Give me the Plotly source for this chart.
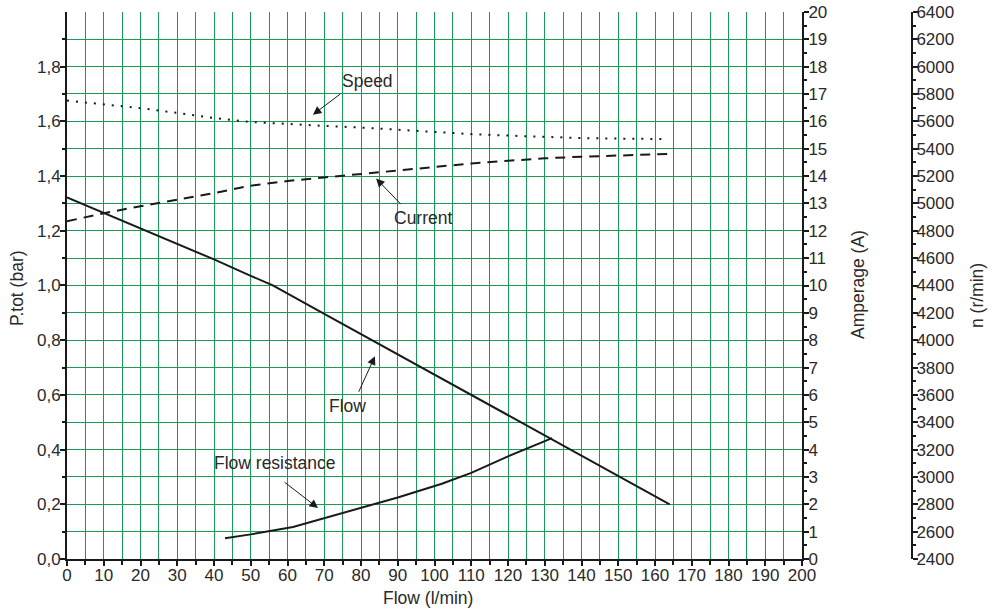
import plotly.graph_objects as go

# ---------------- data ----------------
flow_x = [0, 10, 20, 30, 40, 50, 56, 70, 80, 90, 100, 110, 120, 130, 140, 150, 164]
flow_p = [1.322, 1.265, 1.208, 1.152, 1.095, 1.035, 1.0, 0.896, 0.822, 0.748, 0.674,
          0.600, 0.526, 0.452, 0.378, 0.304, 0.20]

resist_x = [43, 50, 61.5, 70, 82, 90, 102, 110, 120, 132]
resist_p = [0.076, 0.09, 0.117, 0.15, 0.194, 0.225, 0.275, 0.315, 0.375, 0.442]

speed_x = [0, 10, 20, 30, 40, 50, 60, 70, 80, 90, 100, 110, 120, 130, 140, 150, 162]
speed_n = [5752, 5725, 5697, 5662, 5625, 5596, 5580, 5567, 5555, 5538, 5522, 5507,
           5496, 5486, 5478, 5474, 5471]

current_x = [0, 10, 20, 30, 40, 50, 60, 70, 80, 90, 100, 110, 120, 130, 140, 150, 164]
current_a = [12.35, 12.64, 12.9, 13.13, 13.38, 13.65, 13.82, 13.95, 14.08, 14.22, 14.35,
             14.46, 14.56, 14.65, 14.71, 14.76, 14.81]

p_tickvals = [0.0, 0.2, 0.4, 0.6, 0.8, 1.0, 1.2, 1.4, 1.6, 1.8]
p_ticktext = ["0,0", "0,2", "0,4", "0,6", "0,8", "1,0", "1,2", "1,4", "1,6", "1,8"]

# annotation labels: (text, text_x, text_y, tail_x, tail_y, tip_x, tip_y) in P/flow coords
labels = [
    ("Speed", 81.9, 1.748, 74.8, 1.704, 66.9, 1.624),
    ("Current", 96.9, 1.248, 91.2, 1.292, 84.1, 1.391),
    ("Flow", 76.2, 0.558, 79.2, 0.606, 83.8, 0.741),
    ("Flow resistance", 56.6, 0.350, 58.8, 0.285, 68.3, 0.186),
]

# ---------------- figure ----------------
GRID = "#1a9a55"
GW = 1
INK = "#1a1a1a"
FONT = dict(family="Liberation Sans, Arial, sans-serif", size=17, color="#2a2a2a")
W, H = 997, 610


def px_x(p):
    return p / W


def px_y(p):
    return 1 - p / H


fig = go.Figure()
fig.add_trace(go.Scatter(x=flow_x, y=flow_p, mode="lines", yaxis="y",
                         line=dict(color=INK, width=2), name="Flow"))
fig.add_trace(go.Scatter(x=resist_x, y=resist_p, mode="lines", yaxis="y",
                         line=dict(color=INK, width=2), name="Flow resistance"))
fig.add_trace(go.Scatter(x=current_x, y=current_a, mode="lines", yaxis="y2",
                         line=dict(color=INK, width=2, dash="10px,7px"), name="Current"))
fig.add_trace(go.Scatter(x=speed_x, y=speed_n, mode="lines", yaxis="y3",
                         line=dict(color=INK, width=2, dash="2px,7px"), name="Speed"))

common = dict(automargin=False, showline=True, linecolor=INK, linewidth=2,
              ticks="outside", ticklen=5, tickcolor=INK, tickwidth=1.5,
              zeroline=False, tickfont=FONT, ticklabeloverflow="allow")

fig.update_layout(
    width=W, height=H, autosize=False,
    margin=dict(l=0, r=0, t=0, b=0, pad=0),
    paper_bgcolor="white", plot_bgcolor="white",
    showlegend=False,
    font=FONT,
    xaxis=dict(domain=[px_x(67), px_x(802)], range=[0, 200], dtick=10, tick0=0,
               showgrid=True, gridcolor=GRID, gridwidth=GW, ticklabelstandoff=-5,
               minor=dict(dtick=5, tick0=0, ticks="outside", ticklen=4,
                          tickcolor=INK, showgrid=True, gridcolor=GRID, gridwidth=GW),
               **common),
    yaxis=dict(domain=[px_y(559), px_y(12)], range=[0, 1.9995],
               tickmode="array", tickvals=p_tickvals, ticktext=p_ticktext,
               showgrid=True, gridcolor=GRID, gridwidth=GW, ticklabelstandoff=-4,
               minor=dict(dtick=0.1, tick0=0, ticks="outside", ticklen=3,
                          tickcolor=INK, showgrid=True, gridcolor=GRID, gridwidth=GW),
               **common),
    yaxis2=dict(overlaying="y", side="right", anchor="x", range=[0, 20], dtick=1, tick0=0,
                showgrid=False, ticklabelstandoff=-4,
                minor=dict(dtick=0.5, tick0=0, ticks="outside", ticklen=3, tickcolor=INK,
                           showgrid=False),
                **common),
    yaxis3=dict(overlaying="y", side="right", anchor="free", position=px_x(912),
                range=[2400, 6400], dtick=200, tick0=2400,
                showgrid=False, ticklabelstandoff=-5,
                minor=dict(dtick=100, tick0=2400, ticks="outside", ticklen=3, tickcolor=INK,
                           showgrid=False),
                **common),
)

LABEL_FONT = dict(family=FONT["family"], size=17.5, color="#2a2a2a")
annotations = []
for text, tx, ty, ax_, ay_, px_, py_ in labels:
    annotations.append(dict(x=tx, y=ty, xref="x", yref="y", text=text, showarrow=False,
                            font=LABEL_FONT, xanchor="center", yanchor="middle"))
    annotations.append(dict(x=px_, y=py_, xref="x", yref="y", ax=ax_, ay=ay_,
                            axref="x", ayref="y", text="", showarrow=True,
                            arrowhead=2, arrowsize=1.7, arrowwidth=1, arrowcolor=INK))

# axis titles
annotations += [
    dict(x=px_x(428), y=px_y(598), xref="paper", yref="paper", text="Flow (l/min)",
         showarrow=False, font=LABEL_FONT, xanchor="center", yanchor="middle"),
    dict(x=px_x(17), y=px_y(288), xref="paper", yref="paper", text="P.tot (bar)",
         showarrow=False, font=LABEL_FONT, textangle=-90, xanchor="center", yanchor="middle"),
    dict(x=px_x(858), y=px_y(285), xref="paper", yref="paper", text="Amperage (A)",
         showarrow=False, font=LABEL_FONT, textangle=-90, xanchor="center", yanchor="middle"),
    dict(x=px_x(977), y=px_y(296), xref="paper", yref="paper", text="n (r/min)",
         showarrow=False, font=LABEL_FONT, textangle=-90, xanchor="center", yanchor="middle"),
]
fig.update_layout(annotations=annotations)

# remove the browser's default page margin so the figure sits at the window origin
fig.write_html("out.html", config={"displayModeBar": False},
               post_script="document.body.style.margin='0';document.body.style.overflow='hidden';")
